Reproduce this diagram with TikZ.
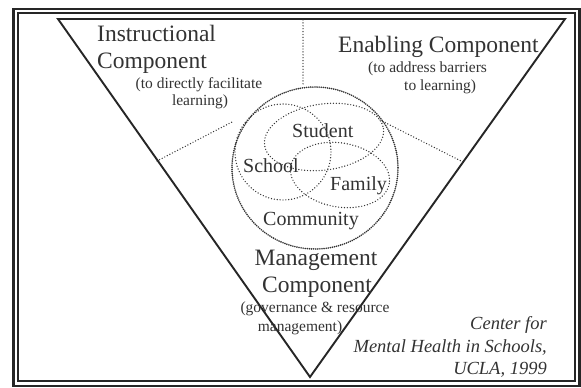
\documentclass[tikz,border=0pt]{standalone}
\usepackage{fontspec}
\setmainfont{Liberation Serif}
\begin{document}
\begin{tikzpicture}[x=1pt,y=-1pt,
  ink/.style={draw=black!85, line cap=round, line join=miter},
  sparse/.style={draw=black!80, line width=1.4pt, line cap=round, dash pattern=on 0pt off 2.9pt},
  dense/.style={draw=black!80, line width=1.8pt, line cap=round, dash pattern=on 0pt off 2.1pt},
  lbl/.style={inner sep=0pt, text=black!80},
  title/.style={lbl, font=\fontsize{23.5}{26}\selectfont},
  note/.style={lbl, font=\fontsize{15.5}{17}\selectfont},
  ring/.style={lbl, font=\fontsize{20}{22}\selectfont},
  credit/.style={lbl, font=\fontsize{18.5}{21}\selectfont\itshape}]
\useasboundingbox (0,0) rectangle (581,388);
\fill[white] (0,0) rectangle (581,388);

% double frame
\draw[ink, line width=2.6pt] (13.5,9) rectangle (579.5,386);
\draw[ink, line width=1.8pt] (17.8,13.3) rectangle (574.6,380.6);

% the inverted triangle
\coordinate (tl) at (58,19);
\coordinate (tr) at (565,19);
\coordinate (bt) at (310,377);
\draw[ink, line width=1.9pt] (tl) -- (tr) -- (bt) -- cycle;

% dotted dividers between the three components
\coordinate (vtop) at (303,20);
\coordinate (vbot) at (303,85);
\coordinate (lout) at (157,161);
\coordinate (lin) at (232,122);
\coordinate (rin) at (380,120);
\coordinate (rout) at (463,162);
\draw[sparse] (vtop) -- (vbot);
\draw[sparse] (lout) -- (lin);
\draw[sparse] (rin) -- (rout);

% overlapping circles
\draw[dense] (315,168) ellipse [x radius=83, y radius=81];
\draw[sparse] (283,152) circle [radius=48];
\draw[sparse, rotate around={8:(324,137)}] (324,137) ellipse [x radius=60, y radius=33];
\draw[sparse, rotate around={-10:(340,175)}] (340,175) ellipse [x radius=50, y radius=32];

% component titles
\node[title, anchor=base west] (instr1) at (97,41) {Instructional};
\node[title, anchor=base west] (instr2) at (97,68) {Component};
\node[note, anchor=base] (instr3) at (199,88) {(to directly facilitate};
\node[note, anchor=base] (instr4) at (200,105) {learning)};

\node[title, anchor=base west] (enab1) at (338,52) {Enabling Component};
\node[note, anchor=base west] (enab2) at (368,72) {(to address barriers};
\node[note, anchor=base west] (enab3) at (404,90) {to learning)};

\node[title, anchor=base] (mgmt1) at (316,265) {Management};
\node[title, anchor=base] (mgmt2) at (317,292) {Component};
\node[note, anchor=base] (mgmt3) at (315,312) {(governance \& resource};
\node[note, anchor=base] (mgmt4) at (300,331) {management)};

% circle labels
\node[ring, anchor=base west] (student) at (292,137) {Student};
\node[ring, anchor=base west] (school) at (243,172) {School};
\node[ring, anchor=base west] (family) at (330,190) {Family};
\node[ring, anchor=base west] (community) at (263,225) {Community};

% credit line
\node[credit, anchor=base east] (cr1) at (547,329) {Center for};
\node[credit, anchor=base east] (cr2) at (547,352) {Mental Health in Schools,};
\node[credit, anchor=base east] (cr3) at (547,374) {UCLA, 1999};
\end{tikzpicture}
\end{document}
